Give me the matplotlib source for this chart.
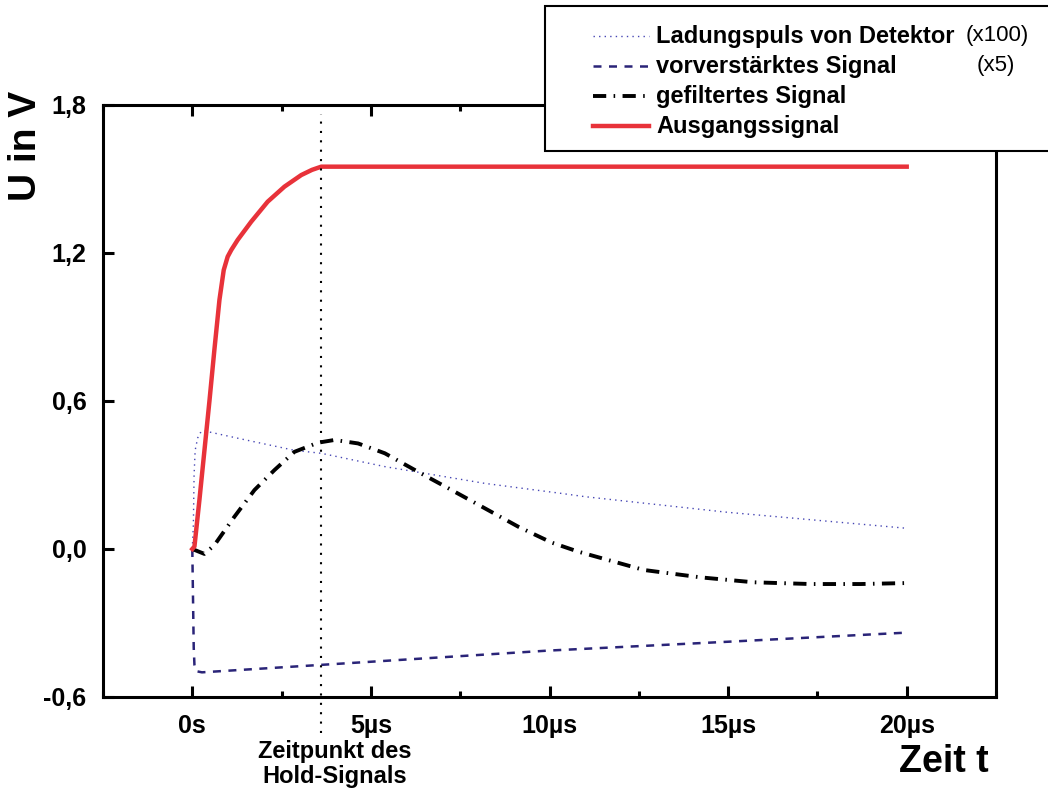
import matplotlib
matplotlib.use('Agg')
import matplotlib.pyplot as plt
from matplotlib.lines import Line2D
from matplotlib.patches import Rectangle

plt.rcParams['font.family'] = ['Liberation Sans', 'DejaVu Sans']

# values (time in µs, voltage in V)
t_det = [0, 0.03, 0.05, 0.08, 0.15, 0.22, 0.29, 0.52, 1.5, 2.86, 3.61, 5.39, 8.19, 10.3, 11.0, 14.97, 20]
v_det = [0, 0.1, 0.3, 0.4, 0.45, 0.47, 0.48, 0.473, 0.442, 0.40, 0.388, 0.334, 0.266, 0.226, 0.212, 0.149, 0.084]

t_pre = [0, 0.02, 0.04, 0.06, 0.1, 0.27, 3.58, 9.95, 14.99, 20]
v_pre = [0, -0.2, -0.4, -0.47, -0.495, -0.5, -0.47, -0.412, -0.376, -0.339]

t_fil = [0, 0.34, 0.62, 1.18, 1.74, 2.30, 2.86, 3.52, 3.98, 4.64, 5.39, 6.32, 7.26, 8.19,
         9.13, 10.06, 10.81, 11.23, 12.64, 14.23, 15.72, 17.31, 18.71, 20]
v_fil = [0, -0.02, 0.016, 0.131, 0.239, 0.32, 0.394, 0.431, 0.442, 0.428, 0.388, 0.313, 0.239, 0.165,
         0.09, 0.026, -0.011, -0.028, -0.085, -0.115, -0.135, -0.142, -0.142, -0.138]

t_out = [0, 0.06, 0.2, 0.34, 0.48, 0.62, 0.76, 0.88, 0.99, 1.09, 1.27, 1.65, 2.11, 2.58, 3.05, 3.35, 3.61, 20]
v_out = [0, 0.01, 0.2, 0.4, 0.6, 0.81, 1.01, 1.131, 1.185, 1.212, 1.253, 1.327, 1.408, 1.469, 1.516, 1.537, 1.55, 1.55]

t_hold = 3.61

xticks = [0, 5, 10, 15, 20]
xticklabels = ['0s', '5µs', '10µs', '15µs', '20µs']
yticks = [-0.6, 0.0, 0.6, 1.2, 1.8]
yticklabels = ['-0,6', '0,0', '0,6', '1,2', '1,8']

labels = ['Ladungspuls von Detektor', 'vorverstärktes Signal', 'gefiltertes Signal', 'Ausgangssignal']

W, H = 1048, 796
fx = lambda px: px / W
fy = lambda py: 1 - py / H

c_det = '#4646b4'
c_pre = '#2a2478'
c_fil = 'black'
c_out = '#e8323a'

st_det = dict(color=c_det, lw=1.0, ls=(0, (1, 3)))
st_pre = dict(color=c_pre, lw=1.8, ls=(0, (3.2, 3.0)))
st_fil = dict(color=c_fil, lw=2.8, ls=(0, (3.4, 1.9, 0.4, 1.9)))
st_out = dict(color=c_out, lw=3.2, ls='-')

fig = plt.figure(figsize=(W / 100, H / 100), dpi=100)
ax = fig.add_axes([fx(103), fy(697), (996 - 103) / W, (697 - 105) / H])

ax.plot(t_det, v_det, **st_det)
ax.plot(t_pre, v_pre, **st_pre)
ax.plot(t_fil, v_fil, **st_fil)
ax.plot(t_out, v_out, **st_out)

# hold time marker, runs down into the label area
ax.axvline(t_hold, ymin=-0.06, ymax=0.985, color='black', lw=1.5, ls=(0, (1, 3.5)), clip_on=False)

ax.set_xlim(-2.5, 22.5)
ax.set_ylim(-0.6, 1.8)
ax.set_xticks(xticks)
ax.set_xticklabels(xticklabels)
ax.set_xticks([-2.5, 2.5, 7.5, 12.5, 17.5, 22.5], minor=True)
ax.set_yticks(yticks)
ax.set_yticklabels(yticklabels)

for s in ax.spines.values():
    s.set_linewidth(2.2)
ax.tick_params(axis='both', which='major', direction='in', length=8, width=2.2,
               labelsize=18, pad=12)
ax.tick_params(axis='x', which='minor', direction='in', length=4.3, width=2.2)
ax.tick_params(axis='x', which='both', top=True)
for lab in ax.get_xticklabels() + ax.get_yticklabels():
    lab.set_fontweight('bold')

fig.text(fx(26), fy(146), 'U in V', rotation=90, ha='center', va='center',
         fontsize=28, fontweight='bold')
fig.text(fx(944), fy(762), 'Zeit t', ha='center', va='center', fontsize=27, fontweight='bold')
fig.text(fx(335), fy(764), 'Zeitpunkt des\nHold-Signals', ha='center', va='center',
         fontsize=17, fontweight='bold', linespacing=1.15)

# legend box, sticking out over the top right of the axes
fig.add_artist(Rectangle((fx(545), fy(151)), fx(1070) - fx(545), fy(6) - fy(151),
                         transform=fig.transFigure, facecolor='white', edgecolor='black',
                         lw=1.5, zorder=10))
rows = [36, 66, 96, 126]
for row, st, lab in zip(rows, [st_det, st_pre, st_fil, st_out], labels):
    fig.add_artist(Line2D([fx(593), fx(649)], [fy(row), fy(row)], transform=fig.transFigure,
                          zorder=11, **st))
    fig.text(fx(656), fy(row), lab, ha='left', va='center', fontsize=17,
             fontweight='bold', zorder=11)
fig.text(fx(966), fy(rows[0]), '(x100)', ha='left', va='center', fontsize=16, zorder=11)
fig.text(fx(977), fy(rows[1]), '(x5)', ha='left', va='center', fontsize=16, zorder=11)

fig.savefig('out.png', dpi=100)
